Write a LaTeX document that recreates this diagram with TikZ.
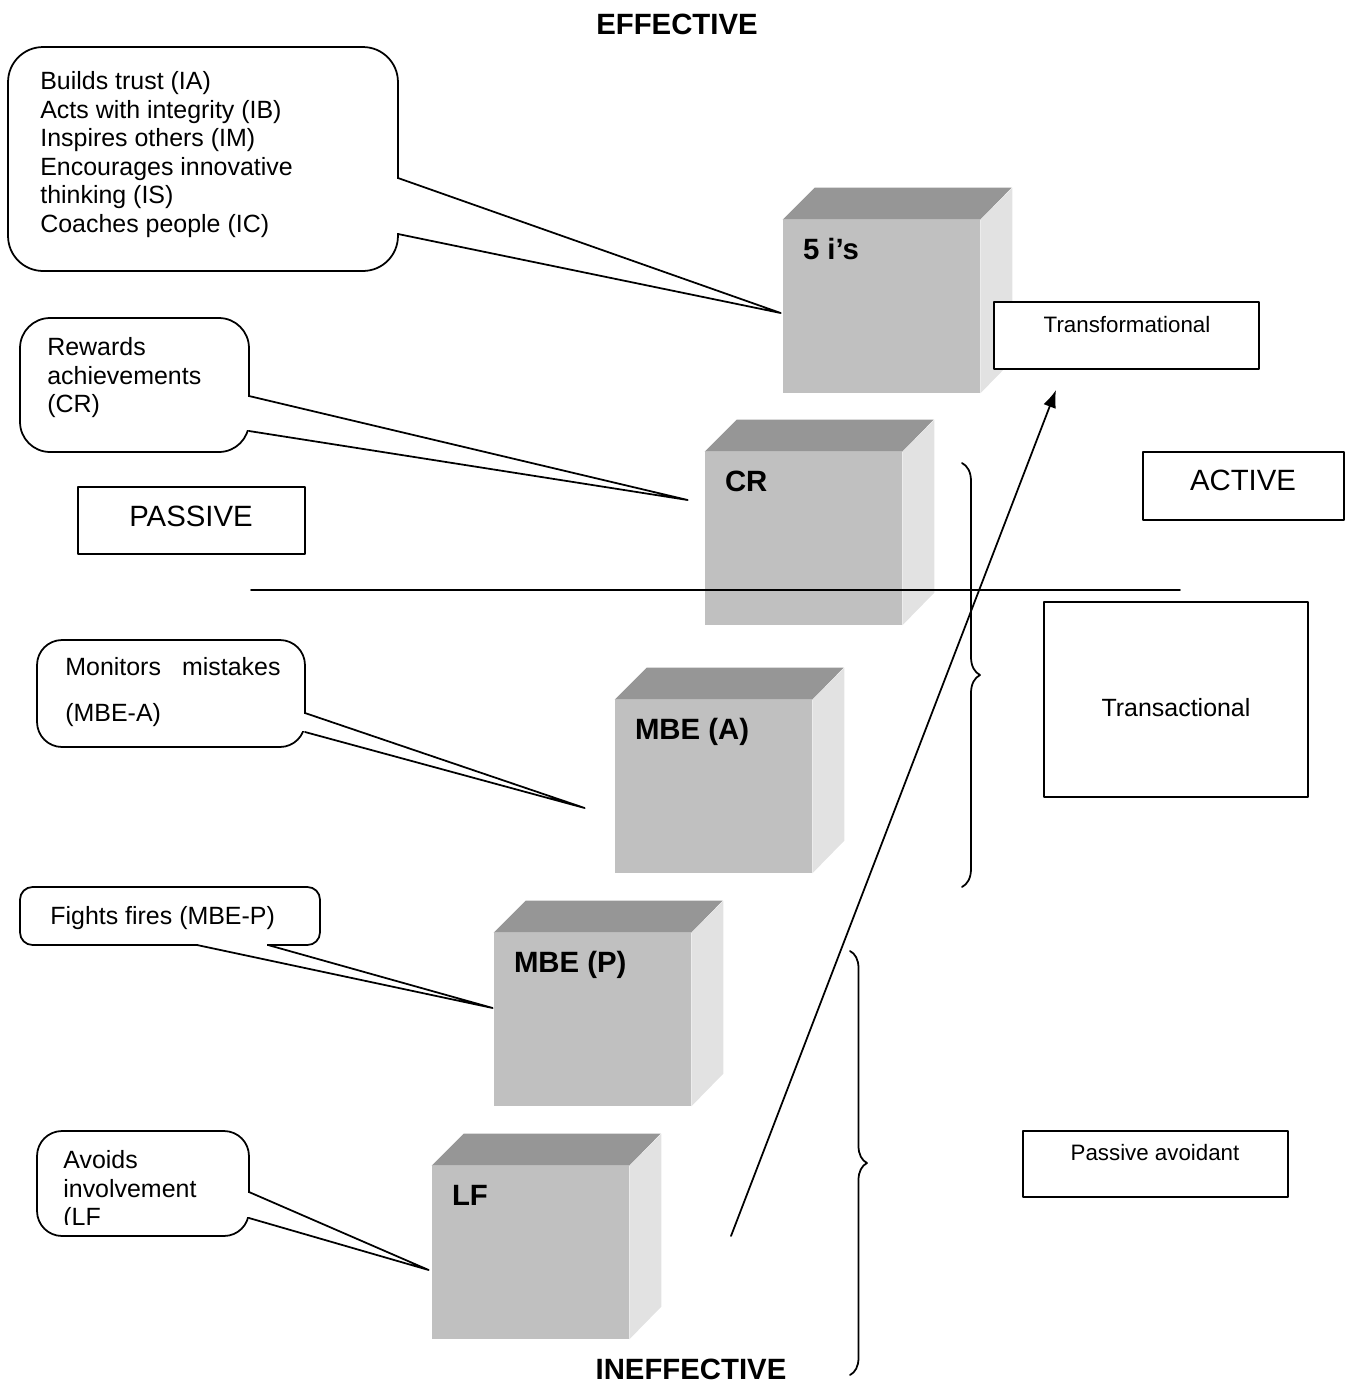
\documentclass[tikz,border=0pt]{standalone}
\usepackage{fontspec}
\setmainfont{Liberation Sans}
\usetikzlibrary{arrows.meta,calc,decorations.pathreplacing}

\definecolor{cubefront}{RGB}{192,192,192}
\definecolor{cubetop}{RGB}{150,150,150}
\definecolor{cubeside}{RGB}{226,226,226}

\tikzset{
  plainbox/.style={draw,line width=1pt,fill=white,inner sep=0pt},
  bubble/.style={plainbox,rounded corners=#1},
  bubble/.default=0.5cm,
  bodytext/.style={font=\fontsize{14.2}{16.3}\selectfont,align=left,inner sep=0pt,anchor=north west},
  bigtext/.style={font=\fontsize{16.7}{20}\selectfont,inner sep=0pt},
  smalltext/.style={font=\fontsize{12.7}{15}\selectfont,inner sep=0pt},
  headtext/.style={font=\fontsize{16.7}{20}\selectfont\bfseries,inner sep=0pt},
  cubeface/.style={fill=cubefront,inner sep=0pt,minimum width=3.94cm,minimum height=3.46cm},
  cubelabel/.style={font=\fontsize{16.7}{20}\selectfont\bfseries,inner sep=0pt,anchor=base west},
  tail/.style={line width=1pt},
  thinline/.style={line width=1pt}
}

\begin{document}
\begin{tikzpicture}[x=0.02cm,y=-0.02cm,line cap=round,line join=round]
    \useasboundingbox (0,0) rectangle (1347,1384);

    \node[headtext] (eff) at (677,24) {EFFECTIVE};
    \node[headtext] (ineff) at (691,1369) {INEFFECTIVE};

    % the five cubes
    \foreach \nm/\cx/\cy/\lab in {i5/881.5/306.5/5 i's, cr/803.5/538.5/CR,
        mbea/713.5/786.5/MBE (A), mbep/592.5/1019.5/MBE (P), lf/530.5/1252.5/LF} {
        \node[cubeface] (\nm) at (\cx,\cy) {};
        \fill[cubetop] (\nm.north west) -- ++(32,-32) -- ++(197,0) -- (\nm.north east) -- cycle;
        \fill[cubeside] (\nm.north east) -- ++(32,-32) -- ++(0,173) -- (\nm.south east) -- cycle;
        \node[cubelabel] (\nm-lab) at ([shift={(20,39.5)}]\nm.north west) {\lab};
    }

    % callouts
    \node[bubble=0.7cm,minimum width=7.8cm,minimum height=4.48cm] (c1) at (203,159) {};
    \node[bodytext] (c1-t) at (40,71) {Builds trust (IA)\\Acts with integrity (IB)\\Inspires others (IM)\\Encourages innovative\\thinking (IS)\\Coaches people (IC)};
    \node[bubble=0.6cm,minimum width=4.58cm,minimum height=2.68cm] (c2) at (134.5,385) {};
    \node[bodytext] (c2-t) at (47,337) {Rewards\\achievements\\(CR)};
    \node[bubble=0.5cm,minimum width=5.36cm,minimum height=2.14cm] (c3) at (171,693.5) {};
    \node[bodytext,font=\fontsize{14.2}{26.2}\selectfont] (c3-t) at (65,657) {Monitors\hspace{12pt}mistakes\\(MBE-A)};
    \node[bubble=0.25cm,minimum width=6.0cm,minimum height=1.16cm] (c4) at (170,916) {};
    \node[bodytext] (c4-t) at (50,906) {Fights fires (MBE-P)};
    \node[bubble=0.5cm,minimum width=4.24cm,minimum height=2.1cm] (c5) at (143,1183.5) {};
    \begin{scope}
        \clip (40,1140) rectangle (245,1224);
        \node[bodytext] (c5-t) at (63,1150) {Avoids\\involvement\\(LF};
    \end{scope}

    \coordinate (c1-u) at (398,178);
    \coordinate (c1-d) at (398,234);
    \coordinate (c2-u) at (249,396);
    \coordinate (c2-d) at (249,431);
    \coordinate (c3-u) at (305,713);
    \coordinate (c3-d) at (305,732);
    \coordinate (c4-l) at (197,945);
    \coordinate (c4-r) at (268,945);
    \coordinate (c5-u) at (249,1192);
    \coordinate (c5-d) at (249,1218);

    \coordinate (t-i5) at ([shift={(-2,6.5)}]i5.west);
    \coordinate (t-cr) at ([shift={(-17,-38.5)}]cr.west);
    \coordinate (t-mbea) at ([shift={(-30,21.5)}]mbea.west);
    \coordinate (t-mbep) at ([shift={(-1,-11.5)}]mbep.west);
    \coordinate (t-lf) at ([shift={(-3,17.5)}]lf.west);

    \foreach \c/\t in {c1/t-i5, c2/t-cr, c3/t-mbea, c5/t-lf} {
        \fill[white] ($(\c-u)+(-3,1)$) rectangle ($(\c-d)+(3,-1)$);
        \draw[tail] (\c-u) -- (\t) -- (\c-d);
    }
    \fill[white] ($(c4-l)+(1,-3)$) rectangle ($(c4-r)+(-1,3)$);
    \draw[tail] (c4-l) -- (t-mbep) -- (c4-r);

    % labels on the right and left
    \node[plainbox,minimum width=5.3cm,minimum height=1.34cm] (transf) at (1126.5,335.5) {};
    \node[smalltext] (transf-t) at (1127,325) {Transformational};
    \node[plainbox,minimum width=4.02cm,minimum height=1.36cm] (active) at (1243.5,486) {};
    \node[bigtext] (active-t) at (1243,480) {ACTIVE};
    \node[plainbox,minimum width=4.54cm,minimum height=1.34cm] (passive) at (191.5,520.5) {};
    \node[bigtext] (passive-t) at (191,516) {PASSIVE};
    \node[plainbox,minimum width=5.28cm,minimum height=3.9cm] (transa) at (1176,699.5) {};
    \node[font=\fontsize{14.2}{16.3}\selectfont,inner sep=0pt] (transa-t) at (1176,708) {Transactional};
    \node[plainbox,minimum width=5.3cm,minimum height=1.32cm] (pavoid) at (1155.5,1164) {};
    \node[smalltext] (pavoid-t) at (1155,1153) {Passive avoidant};

    % divider, arrow and braces
    \coordinate (divl) at (251,590);
    \coordinate (divr) at (1180,590);
    \draw[thinline] (divl) -- (divr);

    \coordinate (arr-s) at (731,1236);
    \coordinate (arr-e) at (1056,390);
    \draw[thinline,-{Latex[length=10pt,width=7.5pt]}] (arr-s) -- (arr-e);

    \coordinate (b1-top) at (962,463);
    \coordinate (b1-bot) at (962,887);
    \draw[thinline,decorate,decoration={brace,amplitude=0.36cm}] (b1-top) -- (b1-bot);
    \coordinate (b2-top) at (850,951);
    \coordinate (b2-bot) at (850,1375);
    \draw[thinline,decorate,decoration={brace,amplitude=0.34cm}] (b2-top) -- (b2-bot);
\end{tikzpicture}
\end{document}
